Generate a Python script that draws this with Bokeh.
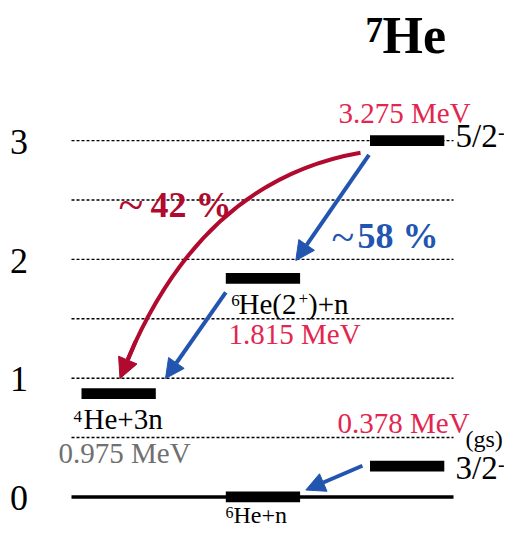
from bokeh.plotting import figure
from bokeh.models import Range1d, Arrow, NormalHead
from bokeh.core.properties import value
from bokeh.embed import file_html
from bokeh.resources import INLINE

# ---------------- data ----------------
tick_values = [0, 1, 2, 3]
tick_labels = ["0", "1", "2", "3"]
dotted_levels = [0.5, 1.0, 1.5, 2.0, 2.5, 3.0]
ground_level = [0.0]

# drawn level energies (MeV, as placed in the scheme) and their labels
level_keys = ["6He+n", "4He+3n", "6He(2+)+n", "3/2-", "5/2-"]
level_energy_drawn = [0.0, 0.87, 1.84, 0.26, 3.0]
level_energy_label = ["", "0.975 MeV", "1.815 MeV", "0.378 MeV", "3.275 MeV"]
branch_pct = ["42 %", "58 %"]
title_mass = "7"
title_element = "He"

# ---------------- layout ----------------
PX = 121.8          # reference pixels per MeV
Y0 = 508.7          # reference y of E = 0
W, H = 504, 529
YT, SY = 18.0, 0.975   # slight vertical squeeze so everything fits the 529px figure
MID = 0.3375           # em-box middle above the alphabetic baseline (Liberation Serif)


def E(y_px):
    return (Y0 - y_px) / PX


def ypx(e):
    return Y0 - e * PX


SERIF = value("Liberation Serif")
DARK_RED = "#B00A2F"
BLUE = "#2255B0"
PINK = "#E2264F"
GREY = "#707070"

p = figure(width=W, height=H, x_range=Range1d(0, W),
           y_range=Range1d(E(YT + (H - YT) / SY), E(YT - YT / SY)),
           output_backend="svg", toolbar_location=None, min_border=0,
           x_axis_location=None, y_axis_location=None)
p.grid.visible = False
p.outline_line_color = None
p.background_fill_color = "white"

LINE_L, LINE_R = 71, 453
# dotted reference lines
p.segment(x0=[LINE_L] * len(dotted_levels), x1=[LINE_R] * len(dotted_levels),
          y0=dotted_levels, y1=dotted_levels, line_color="black",
          line_width=1.4, line_dash="3 2")
# ground line
p.segment(x0=[LINE_L], x1=[LINE_R], y0=ground_level, y1=ground_level,
          line_color="black", line_width=3.5)

# tick labels
p.text(x=[18.5] * len(tick_values), y=[t - 1.3 / PX for t in tick_values],
       text=tick_labels, text_font=SERIF, text_font_size="36px",
       text_align="center", text_baseline="middle", text_color="black")

# level bars
col_left = {"4He": 81.0, "6He": 225.3, "7He": 369.5}
BAR_W = 74.3
level_col = ["6He", "4He", "6He", "7He", "7He"]
lefts = [col_left[c] for c in level_col]
rights = [l + BAR_W for l in lefts]
p.hbar(y=level_energy_drawn, left=lefts, right=rights, height=11 / PX,
       fill_color="black", line_color=None)

lev = {k: dict(L=l, R=r, Y=ypx(e)) for k, l, r, e in
       zip(level_keys, lefts, rights, level_energy_drawn)}


def txt(x, base_px, s, size, color="black", bold=False, align="left"):
    """place text with its alphabetic baseline at reference y = base_px"""
    y_mid = base_px - MID * size / SY
    p.text(x=[x], y=[E(y_mid)], text=[s], text_font=SERIF,
           text_font_size=f"{size}px", text_color=color,
           text_font_style="bold" if bold else "normal",
           text_align=align, text_baseline="middle")


SUP = 17
MAIN = 29
BIG = 33

# title
txt(365, 42, title_mass, 35, bold=True)
txt(382, 53.3, title_element, 52, bold=True)

# 5/2- level
a = lev["5/2-"]
txt(a["L"] - 31.5, a["Y"] - 18.7, level_energy_label[4], MAIN, PINK)
txt(455, a["Y"] + 6.3, "5/2", BIG)
txt(497.5, a["Y"] - 2.2, "-", 20)

# 6He(2+)+n level
b = lev["6He(2+)+n"]
txt(b["L"] + 5.5, b["Y"] + 28.3, "6", SUP)
txt(b["L"] + 12.7, b["Y"] + 36.7, "He(2", MAIN)
txt(b["L"] + 72.7, b["Y"] + 26.5, "+", SUP)
txt(b["L"] + 82.2, b["Y"] + 36.7, ")+n", MAIN)
txt(b["L"] + 2.7, b["Y"] + 66.7, level_energy_label[2], MAIN, PINK)

# 4He+3n level
c = lev["4He+3n"]
txt(c["L"] - 8, c["Y"] + 29, "4", SUP)
txt(c["L"] + 2, c["Y"] + 35.6, "He+3n", MAIN)
txt(c["L"] - 23, c["Y"] + 70.6, level_energy_label[1], MAIN, GREY)

# 3/2- ground state
d = lev["3/2-"]
txt(d["L"] - 32.5, d["Y"] - 33.7, level_energy_label[3], MAIN, PINK)
txt(465, d["Y"] - 19, "(gs)", 24)
txt(455, d["Y"] + 13.5, "3/2", BIG)
txt(497.5, d["Y"] + 4.5, "-", 20)

# 6He+n threshold
g = lev["6He+n"]
txt(g["L"] - 0.3, g["Y"] + 22.0, "6", 16)
txt(g["L"] + 7.7, g["Y"] + 27.2, "He+n", 24)

# branching ratios
txt(118, 225, "~", 46, DARK_RED)
txt(150, 221.7, branch_pct[0], 36, DARK_RED, bold=True)
txt(331, 257, "~", 42, BLUE)
txt(357, 253.3, branch_pct[1], 36, BLUE, bold=True)


# ---------------- arrows ----------------
def arrow(x0, y0, x1, y1, color, size=19, width=4):
    p.add_layout(Arrow(
        end=NormalHead(size=size, fill_color=color, line_color=color, line_width=1),
        x_start=x0, y_start=E(y0), x_end=x1, y_end=E(y1),
        line_color=color, line_width=width))


# 5/2- -> 6He(2+)+n
arrow(a["L"] - 1, a["Y"] + 14.6, b["R"] - 4.3, b["Y"] - 18.3, BLUE)
# 6He(2+)+n -> 4He+3n
arrow(b["L"], b["Y"] + 14.3, c["R"] + 9.7, c["Y"] - 15.5, BLUE)
# 3/2- -> 6He+n
arrow(d["L"] - 7.6, d["Y"] - 0.3, g["R"] + 5.7, g["Y"] - 7.1, BLUE)

# 5/2- -> 4He+3n, curved (quadratic Bezier), split before the tip
P0 = (a["L"] - 9.5, a["Y"] + 12.3)
P2 = (c["L"] + 38.5, c["Y"] - 15.5)
C = (195.0, 185.0)


def bez(t):
    return tuple((1 - t) ** 2 * P0[k] + 2 * (1 - t) * t * C[k] + t ** 2 * P2[k]
                 for k in range(2))


t0 = 0.95
C_sub = tuple(P0[k] + t0 * (C[k] - P0[k]) for k in range(2))
Pe = bez(t0)
p.quadratic(x0=[P0[0]], y0=[E(P0[1])], x1=[Pe[0]], y1=[E(Pe[1])],
            cx=[C_sub[0]], cy=[E(C_sub[1])], line_color=DARK_RED, line_width=4)
Ps = bez(0.9)
arrow(Ps[0], Ps[1], P2[0], P2[1], DARK_RED, size=20)

open("out.html", "w").write(file_html(p, INLINE))
